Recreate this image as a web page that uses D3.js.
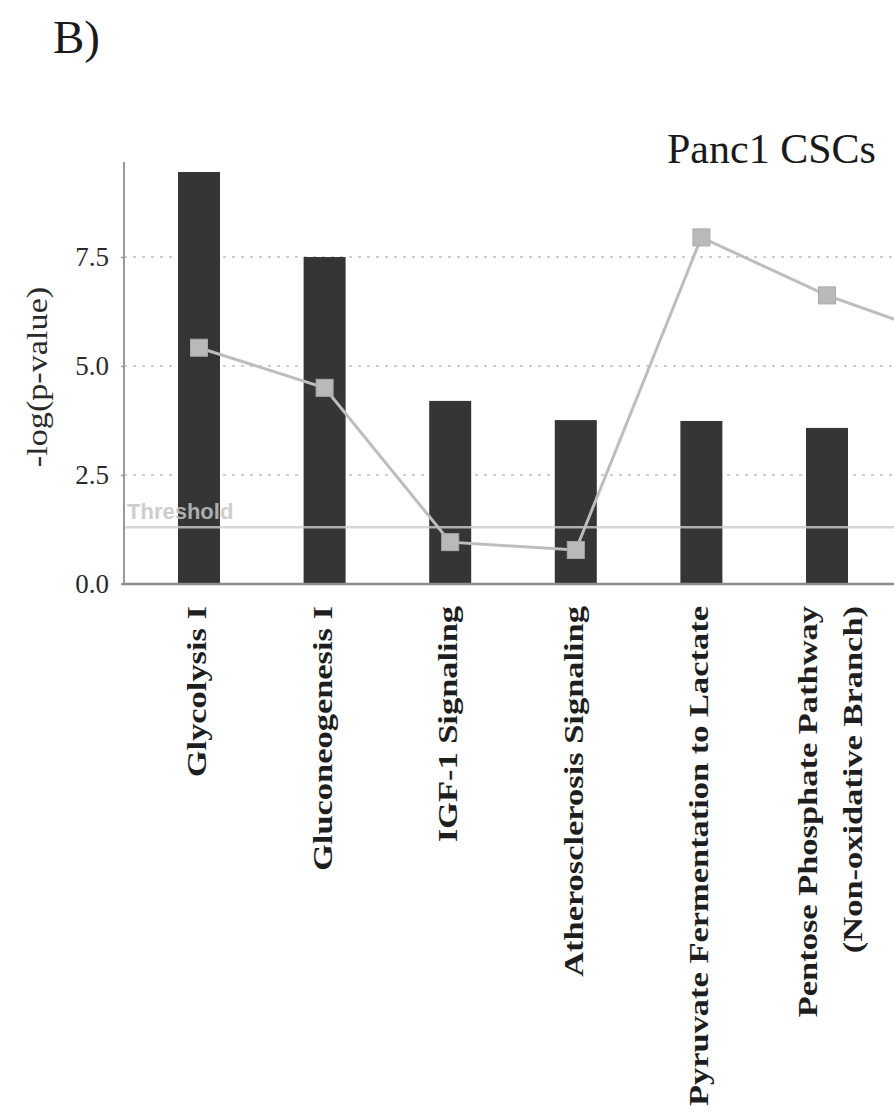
<!DOCTYPE html>
<html>
<head>
<meta charset="utf-8">
<script src="https://cdn.jsdelivr.net/npm/d3@7"></script>
<style>
  html, body { margin: 0; padding: 0; background: #fff; overflow: hidden; }
  svg { display: block; }
</style>
</head>
<body>
<svg id="chart" width="894" height="1111"></svg>
<script>
// Canonical pathways enriched in Panc1 CSCs
const categories = [
  ["Glycolysis I"],
  ["Gluconeogenesis I"],
  ["IGF-1 Signaling"],
  ["Atherosclerosis Signaling"],
  ["Pyruvate Fermentation to Lactate"],
  ["Pentose Phosphate Pathway", "(Non-oxidative Branch)"]
];
// -log(p-value) per pathway (bars)
const negLogP = [9.45, 7.5, 4.2, 3.76, 3.74, 3.58];
// ratio per pathway (line); the series runs on past the panel edge
const ratio = [5.42, 4.5, 0.96, 0.78, 7.95, 6.62, 5.6];
const yTicks = [0, 2.5, 5.0, 7.5];
const threshold = 1.3;

const svg = d3.select("#chart");
const W = 894;

const x = d3.scalePoint().domain(d3.range(ratio.length)).range([199, 199 + 125.6 * (ratio.length - 1)]);
const y = d3.scaleLinear().domain([0, 9.68]).range([584, 162]);
const barW = 42;
const axisX = 124;
const serif = "'Liberation Serif','Times New Roman',serif";

// panel letter and title
svg.append("text").attr("x", 53).attr("y", 53)
  .attr("font-family", serif).attr("font-size", 47).attr("fill", "#1a1a1a").text("B)");
svg.append("text").attr("x", 667).attr("y", 163)
  .attr("font-family", serif).attr("font-size", 42).attr("fill", "#1a1a1a").text("Panc1 CSCs");

// dotted gridlines
svg.append("g").selectAll("line").data(yTicks.filter(d => d > 0)).join("line")
  .attr("x1", axisX).attr("x2", W)
  .attr("y1", d => y(d)).attr("y2", d => y(d))
  .attr("stroke", "#cfcfcf").attr("stroke-width", 2).attr("stroke-dasharray", "3,6");

// bars
svg.append("g").selectAll("rect").data(negLogP).join("rect")
  .attr("x", (d, i) => x(i) - barW / 2)
  .attr("width", barW)
  .attr("y", d => y(d))
  .attr("height", d => y(0) - y(d))
  .attr("fill", "#353535");

// threshold line + label, drawn across the bars
svg.append("line").attr("x1", axisX).attr("x2", W)
  .attr("y1", y(threshold)).attr("y2", y(threshold))
  .attr("stroke", "#cdcdcd").attr("stroke-opacity", 0.8).attr("stroke-width", 2.5);
svg.append("text").attr("x", 127).attr("y", y(threshold) - 8)
  .attr("font-family", "'Liberation Sans',Arial,sans-serif").attr("font-weight", "bold")
  .attr("font-size", 22).attr("fill", "#c4c4c4").attr("fill-opacity", 0.85).text("Threshold");

// left axis
const yAxis = d3.axisLeft(y).tickValues(yTicks).tickFormat(d3.format(".1f")).tickSize(3).tickPadding(12);
const gy = svg.append("g").attr("transform", `translate(${axisX},0)`).call(yAxis);
gy.select(".domain").attr("d", `M-3,${y(0)}H0V162`).attr("stroke", "#9a9a9a").attr("stroke-width", 2);
gy.selectAll(".tick line").attr("stroke", "#9a9a9a").attr("stroke-width", 1.5);
gy.selectAll(".tick text").attr("font-family", serif).attr("font-size", 27).attr("fill", "#2a2a2a");

// baseline
svg.append("line").attr("x1", axisX - 1).attr("x2", W)
  .attr("y1", y(0)).attr("y2", y(0))
  .attr("stroke", "#8c8c8c").attr("stroke-width", 2.5);

// y-axis title
svg.append("text")
  .attr("transform", `translate(47,377) rotate(-90) scale(1.18,1)`)
  .attr("text-anchor", "middle")
  .attr("font-family", serif).attr("font-size", 29).attr("fill", "#2a2a2a")
  .text("-log(p-value)");

// ratio line and square markers
svg.append("path").datum(ratio)
  .attr("d", d3.line().x((d, i) => x(i)).y(d => y(d)))
  .attr("fill", "none").attr("stroke", "#bdbdbd").attr("stroke-width", 3);
const ms = 17;
svg.append("g").selectAll("rect").data(ratio).join("rect")
  .attr("x", (d, i) => x(i) - ms / 2).attr("y", d => y(d) - ms / 2)
  .attr("width", ms).attr("height", ms)
  .attr("fill", "#b9b9b9").attr("stroke", "#a9a9a9").attr("stroke-width", 1);

// rotated category labels
const labelTop = 606;
const lineOffsets = { 1: [7], 2: [-10, 35] };
categories.forEach((lines, i) => {
  lines.forEach((t, k) => {
    const bx = x(i) + lineOffsets[lines.length][k];
    svg.append("text")
      .attr("transform", `translate(${bx},${labelTop}) rotate(-90) scale(1.23,1)`)
      .attr("text-anchor", "end")
      .attr("font-family", serif).attr("font-weight", "bold")
      .attr("font-size", 28).attr("fill", "#1e1e1e")
      .text(t);
  });
});
</script>
</body>
</html>
